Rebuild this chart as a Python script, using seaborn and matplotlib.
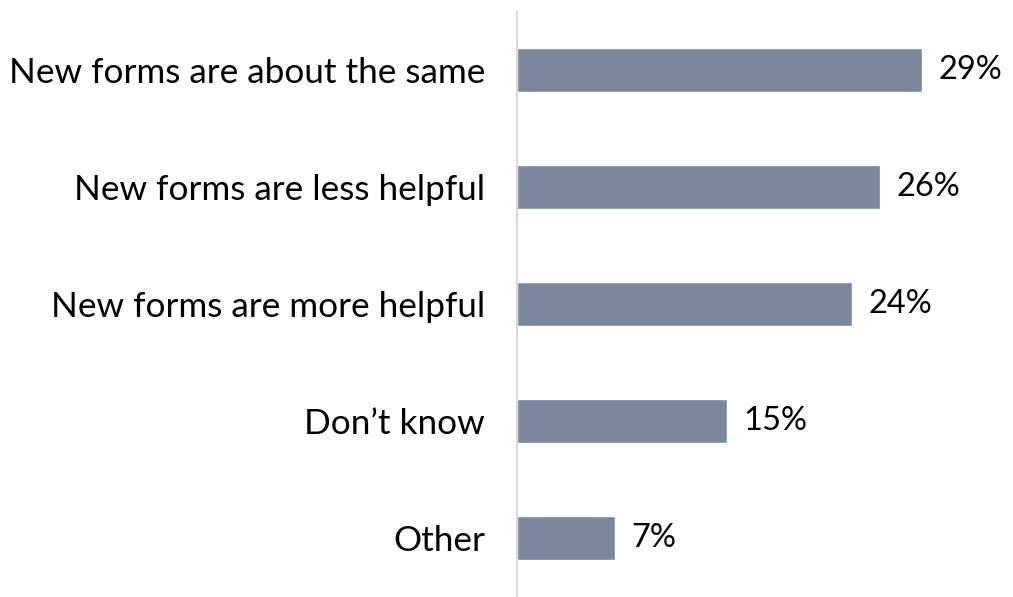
import matplotlib
matplotlib.use("Agg")
import matplotlib.pyplot as plt
import seaborn as sns
import pandas as pd

categories = [
    "New forms are about the same",
    "New forms are less helpful",
    "New forms are more helpful",
    "Don\u2019t know",
    "Other",
]
values = [29, 26, 24, 15, 7]
value_labels = ["29%", "26%", "24%", "15%", "7%"]

df = pd.DataFrame({"category": categories, "value": values})

sns.set_theme(style="white")
plt.rcParams["font.family"] = ["Lato", "DejaVu Sans"]

fig = plt.figure(figsize=(10.13, 5.97), dpi=100)
ax = fig.add_axes([517 / 1013, 1 - 596.5 / 597, 496 / 1013, 585 / 597])

sns.barplot(data=df, x="value", y="category", color="#7a879c",
            saturation=1, width=0.37, ax=ax, orient="h")

ax.set_xlim(0, 35.5)
ax.set_ylim(4.5, -0.5)
ax.set_xlabel("")
ax.set_ylabel("")
ax.set_xticks([])

for s in ["top", "right", "bottom"]:
    ax.spines[s].set_visible(False)
ax.spines["left"].set_color("#d9d9d9")
ax.spines["left"].set_linewidth(1.5)

ax.tick_params(axis="y", length=0, pad=23, labelsize=25.3, labelcolor="#000000")

for i, (v, lab) in enumerate(zip(values, value_labels)):
    ax.annotate(lab, (v, i), xytext=(12, 0), textcoords="offset points",
                va="center", ha="left", fontsize=23.5, color="#000000")

fig.savefig("out.png", dpi=100)
